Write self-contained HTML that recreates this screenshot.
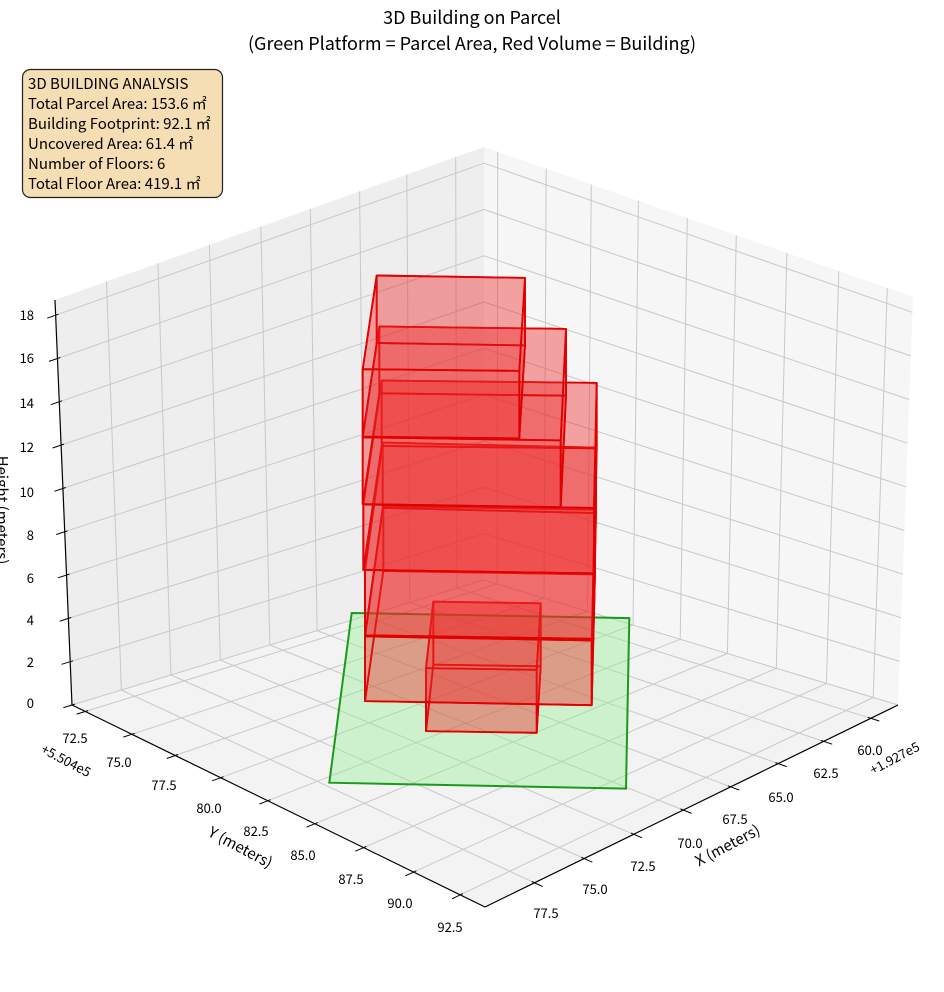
<!DOCTYPE html>
<html><head><meta charset="utf-8"><style>
body{margin:0;background:#fff;}
svg{display:block;font-family:"Noto Sans CJK SC","Liberation Sans",sans-serif;}
</style></head><body>
<svg id="s" width="944" height="992" viewBox="0 0 944 992" xmlns="http://www.w3.org/2000/svg">
<g id="panes"></g><g id="grid"></g><g id="axes"></g><g id="objs"></g>
<text x="472" y="24" font-size="18" text-anchor="middle" fill="#000">3D Building on Parcel</text>
<text x="472" y="50" font-size="18" text-anchor="middle" fill="#000">(Green Platform = Parcel Area, Red Volume = Building)</text>
<rect x="22.5" y="69.5" width="200" height="128" rx="8" fill="#f5deb3" stroke="#222" stroke-width="1.2"/>
<g font-size="15" fill="#000">
<text x="28" y="89">3D BUILDING ANALYSIS</text>
<text x="28" y="109">Total Parcel Area: 153.6 ㎡</text>
<text x="28" y="129">Building Footprint: 92.1 ㎡</text>
<text x="28" y="149">Uncovered Area: 61.4 ㎡</text>
<text x="28" y="169">Number of Floors: 6</text>
<text x="28" y="189">Total Floor Area: 419.1 ㎡</text>
</g>
<g font-size="13" fill="#000" text-anchor="middle">
<text x="75" y="743">72.5</text><text x="119" y="767">75.0</text><text x="164" y="790">77.5</text><text x="209" y="813">80.0</text><text x="256" y="836">82.5</text><text x="303" y="860">85.0</text><text x="351" y="884">87.5</text><text x="400" y="908">90.0</text><text x="450" y="932">92.5</text>
<text x="870" y="755">60.0</text><text x="826" y="778">62.5</text><text x="781" y="802">65.0</text><text x="735" y="824">67.5</text><text x="690" y="848">70.0</text><text x="643" y="871">72.5</text><text x="595" y="894">75.0</text><text x="546" y="918">77.5</text>
</g>
<g font-size="13" fill="#000" text-anchor="end">
<text x="34" y="320">18</text><text x="34" y="363">16</text><text x="34" y="408">14</text><text x="34" y="452">12</text><text x="34" y="497">10</text><text x="34" y="540">8</text><text x="34" y="583">6</text><text x="34" y="625">4</text><text x="34" y="667">2</text><text x="34" y="708">0</text>
</g>
<text transform="translate(-3,510) rotate(90)" font-size="15" text-anchor="middle">Height (meters)</text>
<text transform="translate(238,852) rotate(28)" font-size="15" text-anchor="middle">Y (meters)</text>
<text transform="translate(730,850) rotate(-28)" font-size="15" text-anchor="middle">X (meters)</text>
<text transform="translate(40,752) rotate(28)" font-size="13">+5.504e5</text>
<text transform="translate(873,775) rotate(-28)" font-size="13">+1.927e5</text>
</svg>
<script>
var NS="http://www.w3.org/2000/svg";
function el(p,t,a){var e=document.createElementNS(NS,t);for(var k in a)e.setAttribute(k,a[k]);document.getElementById(p).appendChild(e);return e;}
function B(p){return function(u,v){var a=p[0],b=p[1],c=p[2],d=p[3];
 return [a[0]*(1-u)*(1-v)+b[0]*u*(1-v)+c[0]*u*v+d[0]*(1-u)*v, a[1]*(1-u)*(1-v)+b[1]*u*(1-v)+c[1]*u*v+d[1]*(1-u)*v];};}
var C=[484,580],D=[72,705],F=[485,907],R=[898,705],Dt=[55,300],Ct=[484,147],Rt=[913,297];
var floor=B([C,D,F,R]),lw=B([C,D,Dt,Ct]),rw=B([C,R,Rt,Ct]);
function pts(a){return a.map(function(p){return p[0].toFixed(1)+","+p[1].toFixed(1)}).join(" ");}
el("panes","polygon",{points:pts([C,D,Dt,Ct]),fill:"#eeeeee"});
el("panes","polygon",{points:pts([C,R,Rt,Ct]),fill:"#f6f6f6"});
el("panes","polygon",{points:pts([C,D,F,R]),fill:"#f3f3f3"});
function line(g,a,b,st,w){el(g,"line",{x1:a[0].toFixed(1),y1:a[1].toFixed(1),x2:b[0].toFixed(1),y2:b[1].toFixed(1),stroke:st,"stroke-width":w});}
function tick(p,q){var dx=p[0]-q[0],dy=p[1]-q[1],L=Math.hypot(dx,dy);dx/=L;dy/=L;line("axes",[p[0]-dx*3,p[1]-dy*3],[p[0]+dx*9,p[1]+dy*9],"#000",1);}
var gc="#c8c8c8";
// floor edge fractions from reference tick positions
var yu=[0.032,0.145,0.25,0.36,0.474,0.588,0.706,0.827,0.94];
var xu=[0.066,0.18,0.29,0.405,0.52,0.64,0.76,0.88];
xu.forEach(function(u){
 line("grid",floor(u,0),floor(u,1),gc,1);line("grid",lw(u,0),lw(u,1),gc,1);
 tick(floor(u,1),floor(u,0.9));});
yu.forEach(function(v){
 line("grid",floor(0,v),floor(1,v),gc,1);line("grid",rw(v,0),rw(v,1),gc,1);
 tick(floor(1,v),floor(0.9,v));});
for(var z=0;z<=18;z+=2){var w=z/18.7;
 line("grid",lw(0,w),lw(1,w),gc,1);line("grid",rw(0,w),rw(1,w),gc,1);
 tick(lw(1,w),lw(0.9,w));}
line("axes",D,F,"#000",1.2);line("axes",F,R,"#000",1.2);line("axes",D,Dt,"#000",1.2);
function Z(p){return [320+p[0]/3,260+p[1]/2.904];}
el("objs","polygon",{points:pts([[95,1025],[928,1040],[918,1535],[28,1518]].map(Z)),fill:"rgba(144,238,144,0.38)",stroke:"#1a9a1a","stroke-width":2});
var boxes=[
 [[340,992],[662,997],[318,1185],[650,1190],183],
 [[190,715],[825,725],[135,1093],[815,1105],188],
 [[188,530],[828,545],[135,900],[820,910],190],
 [[185,350],[830,357],[130,710],[822,720],190],
 [[178,193],[738,200],[128,515],[722,524],194],
 [[170,45],[615,52],[128,317],[598,322],196]];
boxes.forEach(function(b){
 var h=b[4];function dn(p){return [p[0],p[1]+h];}
 var t=[b[0],b[1],b[3],b[2]],bo=t.map(dn);
 var faces=[bo,[b[0],b[1],dn(b[1]),dn(b[0])],[b[0],b[2],dn(b[2]),dn(b[0])],[b[1],b[3],dn(b[3]),dn(b[1])],[b[2],b[3],dn(b[3]),dn(b[2])],t];
 faces.forEach(function(f){el("objs","polygon",{points:pts(f.map(Z)),fill:"rgba(240,40,40,0.24)",stroke:"#e00000","stroke-width":1.8,"stroke-linejoin":"round"});});
});
</script>
</body></html>
